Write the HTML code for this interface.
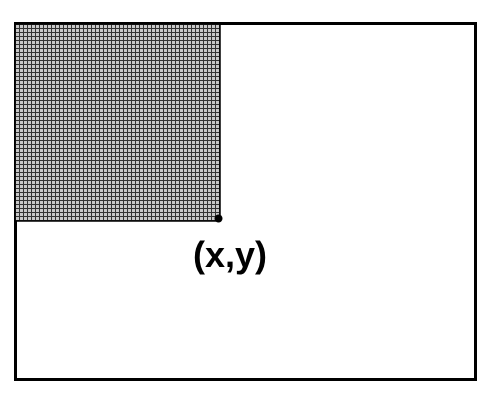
<!DOCTYPE html>
<html><head><meta charset="utf-8"><style>
html,body{margin:0;padding:0;background:#fff;width:500px;height:400px;overflow:hidden}
</style></head><body>
<svg width="500" height="400">
<defs>
<pattern id="g" width="4" height="4" patternUnits="userSpaceOnUse" x="15" y="24">
<rect width="4" height="4" fill="#333"/>
<rect x="1" y="1" width="3" height="3" fill="#c8c8c8"/>
</pattern>
</defs>
<rect x="15.5" y="23.5" width="460" height="356" fill="#fff" stroke="#000" stroke-width="3"/>
<rect x="15" y="24" width="205" height="197" fill="url(#g)" stroke="#000" stroke-width="1.5"/>
<circle cx="218.5" cy="218.5" r="4" fill="#000"/>
<text x="230" y="267" text-anchor="middle" font-family="Liberation Sans, sans-serif" font-size="36" font-weight="bold">(x,y)</text>
</svg>
</body></html>
